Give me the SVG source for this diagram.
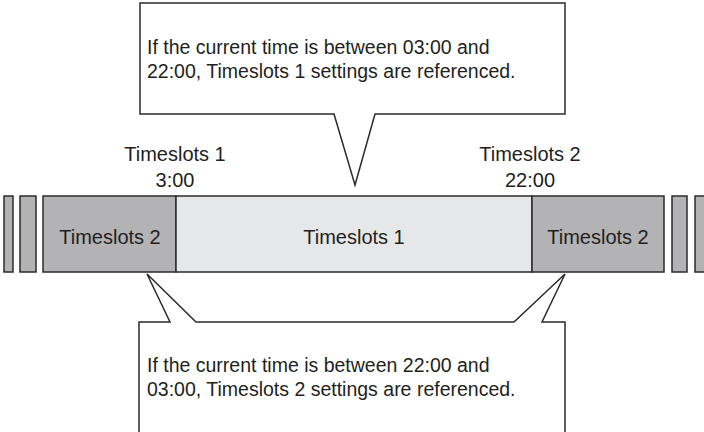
<svg xmlns="http://www.w3.org/2000/svg" width="704" height="432" viewBox="0 0 704 432">
<style>
  .dk{fill:#b3b3b5;stroke:#2b2b2b;stroke-width:1.5}
  .lt{fill:#e6e7e8;stroke:#2b2b2b;stroke-width:1.5}
  .co{fill:#ffffff;stroke:#2b2b2b;stroke-width:1.5;stroke-linejoin:miter}
  text{font-family:"Liberation Sans",Arial,sans-serif;fill:#231f20}
  .lb{font-size:20px;text-anchor:middle}
  .ct{font-size:19.5px}
</style>
<rect width="704" height="432" fill="#ffffff"/>
<g id="bar-ends">
  <rect class="dk" x="4" y="196" width="9" height="76"/>
  <rect class="dk" x="20" y="196" width="16" height="76"/>
  <rect class="dk" x="672" y="196" width="15" height="76"/>
  <rect class="dk" x="695" y="196" width="10" height="76"/>
</g>
<g id="slot2-left">
  <rect class="dk" x="43" y="196" width="133" height="76"/>
  <text class="lb" x="110" y="244">Timeslots 2</text>
</g>
<g id="slot1">
  <rect class="lt" x="176" y="196" width="356" height="76"/>
  <text class="lb" x="354" y="244">Timeslots 1</text>
</g>
<g id="slot2-right">
  <rect class="dk" x="532" y="196" width="132" height="76"/>
  <text class="lb" x="598" y="244">Timeslots 2</text>
</g>
<g id="label-ts1">
  <text class="lb" x="175" y="161">Timeslots 1</text>
  <text class="lb" x="175" y="187">3:00</text>
</g>
<g id="label-ts2">
  <text class="lb" x="530" y="161">Timeslots 2</text>
  <text class="lb" x="530" y="187">22:00</text>
</g>
<g id="callout-top">
  <path class="co" d="M140,3 H565 V114 H375 L355,185 L334,114 H140 Z"/>
  <text class="ct" x="147" y="54">If the current time is between 03:00 and</text>
  <text class="ct" x="147" y="78">22:00, Timeslots 1 settings are referenced.</text>
</g>
<g id="callout-bottom">
  <path class="co" d="M139,322 H170 L147,274 L196,322 H514 L565,274 L542,322 H565 V440 H139 Z"/>
  <text class="ct" x="147" y="372">If the current time is between 22:00 and</text>
  <text class="ct" x="147" y="396">03:00, Timeslots 2 settings are referenced.</text>
</g>
</svg>
